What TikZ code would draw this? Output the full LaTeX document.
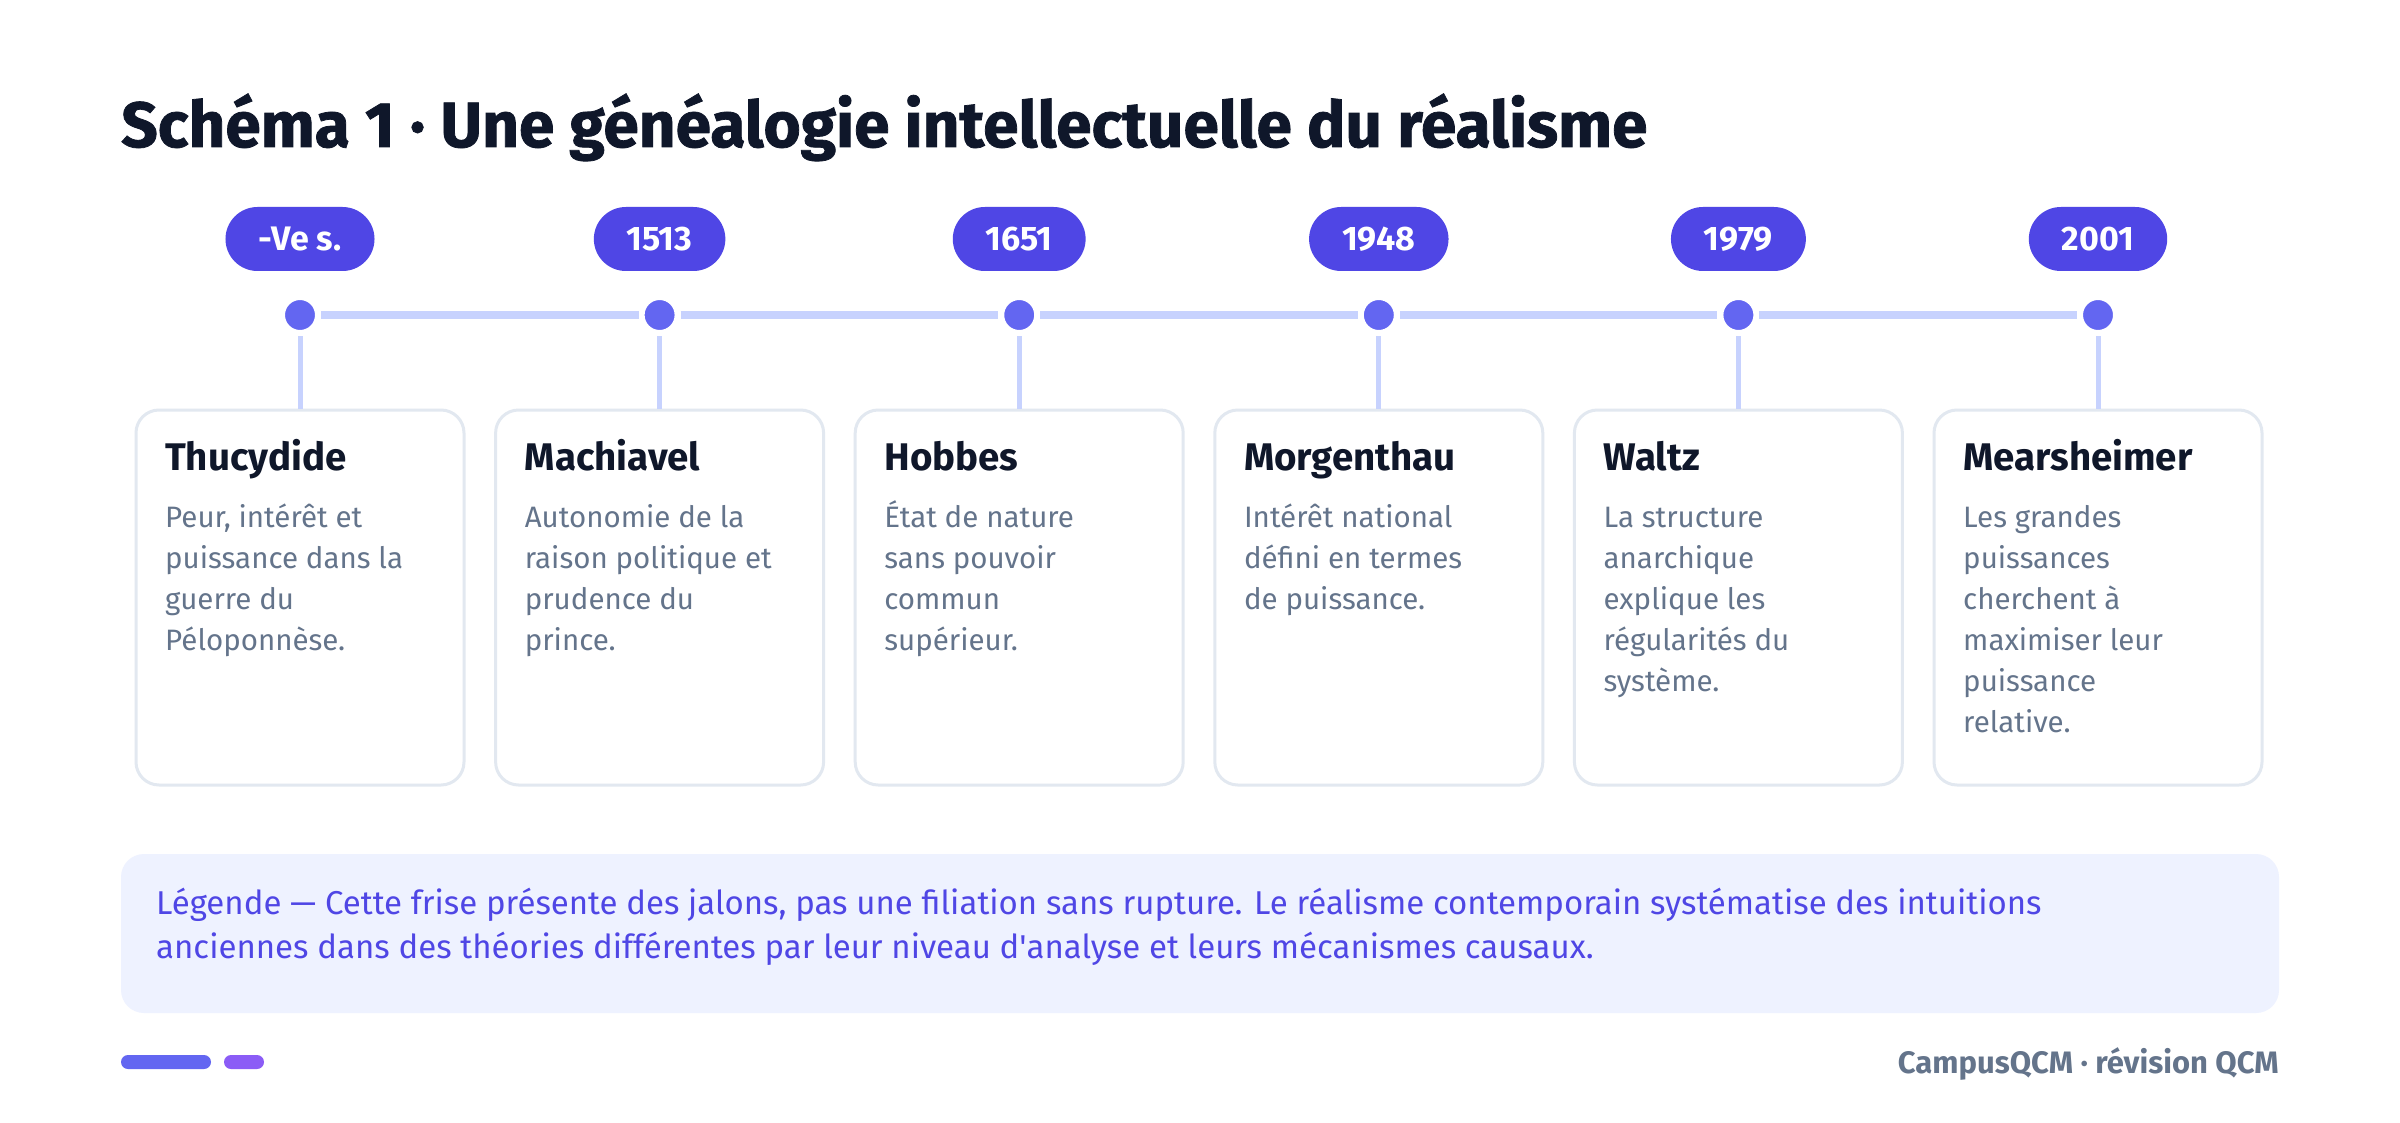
\documentclass[tikz,border=0pt]{standalone}
\usepackage{fontspec}
\setmainfont{Fira Sans}
\newfontfamily\titlef{Fira Sans}[BoldFeatures={FakeBold=1.2}]
\definecolor{ink}{HTML}{0F172A}
\definecolor{pillc}{HTML}{4F46E5}
\definecolor{dotc}{HTML}{6366F1}
\definecolor{linec}{HTML}{C7D2FE}
\definecolor{bodyc}{HTML}{64748B}
\definecolor{cardb}{HTML}{E2E8F0}
\definecolor{legbg}{HTML}{EEF2FF}
\definecolor{violetc}{HTML}{8B5CF6}
\tikzset{
  pillbox/.style={rectangle, rounded corners=32pt, fill=pillc, text=white, inner xsep=33pt, inner ysep=0pt, minimum height=64pt, font=\fontsize{34}{40}\selectfont\bfseries},
  dotnode/.style={circle, inner sep=0pt, minimum size=36pt, fill=dotc, draw=white, line width=6pt},
  tline/.style={draw=linec, line width=8pt},
  vline/.style={draw=linec, line width=5pt},
  cardbox/.style={rectangle, rounded corners=23pt, draw=cardb, line width=3pt, fill=white, minimum width=328pt, minimum height=375pt},
  cardtitle/.style={anchor=base west, inner sep=0pt, text=ink, font=\fontsize{38.5}{44}\selectfont\bfseries},
  bodytxt/.style={anchor=base west, inner sep=0pt, text=bodyc, font=\fontsize{29.5}{41}\selectfont},
  legtxt/.style={anchor=base west, inner sep=0pt, text=pillc, font=\fontsize{33}{44}\selectfont},
  legendbox/.style={rectangle, rounded corners=23pt, fill=legbg, minimum width=2158pt, minimum height=159pt},
  barbox/.style={rectangle, rounded corners=7pt, minimum height=14pt, inner sep=0pt}
}
\newcommand\bodylines[3]{%
  \foreach \l [count=\j from 0] in {#3} {\node[bodytxt] (#1-\j) at (#2,{527+41*\j}) {\l};}}
\begin{document}
\begin{tikzpicture}[x=1pt,y=-1pt]
\useasboundingbox (0,0) rectangle (2400,1123);
\fill[white] (0,0) rectangle (2400,1123);
% title
\node[anchor=base west, inner sep=0pt, text=ink, font=\fontsize{64}{76}\selectfont\titlef\bfseries] (title) at (121,147) {Schéma 1 · Une généalogie intellectuelle du réalisme};
% pills
\node[pillbox] (y1) at (300,239) {-Ve s.};
\node[pillbox] (y2) at (659.6,239) {1513};
\node[pillbox] (y3) at (1019.2,239) {1651};
\node[pillbox] (y4) at (1378.8,239) {1948};
\node[pillbox] (y5) at (1738.4,239) {1979};
\node[pillbox] (y6) at (2098,239) {2001};
% cards
\node[cardbox] (k1) at (300,597.5) {};
\node[cardbox] (k2) at (659.6,597.5) {};
\node[cardbox] (k3) at (1019.2,597.5) {};
\node[cardbox] (k4) at (1378.8,597.5) {};
\node[cardbox] (k5) at (1738.4,597.5) {};
\node[cardbox] (k6) at (2098,597.5) {};
% dots
\node[dotnode] (d1) at (300,315) {};
\node[dotnode] (d2) at (659.6,315) {};
\node[dotnode] (d3) at (1019.2,315) {};
\node[dotnode] (d4) at (1378.8,315) {};
\node[dotnode] (d5) at (1738.4,315) {};
\node[dotnode] (d6) at (2098,315) {};
% connectors
\draw[tline] (d1) -- (d2);
\draw[tline] (d2) -- (d3);
\draw[tline] (d3) -- (d4);
\draw[tline] (d4) -- (d5);
\draw[tline] (d5) -- (d6);
\foreach \i in {1,...,6} {\draw[vline] (d\i) -- (k\i.north);}
% card texts
\node[cardtitle] (n1) at (165,470) {Thucydide};
\bodylines{b1}{165}{{Peur, intérêt et},{puissance dans la},{guerre du},{Péloponnèse.}}
\node[cardtitle] (n2) at (524.6,470) {Machiavel};
\bodylines{b2}{524.6}{{Autonomie de la},{raison politique et},{prudence du},{prince.}}
\node[cardtitle] (n3) at (884.2,470) {Hobbes};
\bodylines{b3}{884.2}{{État de nature},{sans pouvoir},{commun},{supérieur.}}
\node[cardtitle] (n4) at (1243.8,470) {Morgenthau};
\bodylines{b4}{1243.8}{{Intérêt national},{défini en termes},{de puissance.}}
\node[cardtitle] (n5) at (1603.4,470) {Waltz};
\bodylines{b5}{1603.4}{{La structure},{anarchique},{explique les},{régularités du},{système.}}
\node[cardtitle] (n6) at (1963,470) {Mearsheimer};
\bodylines{b6}{1963}{{Les grandes},{puissances},{cherchent à},{maximiser leur},{puissance},{relative.}}
% legend
\node[legendbox] (leg) at (1200,933.5) {};
\node[legtxt] (l1) at (156,914) {Légende — Cette frise présente des jalons, pas une filiation sans rupture. Le réalisme contemporain systématise des intuitions};
\node[legtxt] (l2) at (156,958) {anciennes dans des théories différentes par leur niveau d\textquotesingle analyse et leurs mécanismes causaux.};
% footer
\node[barbox, fill=dotc, minimum width=90pt] (bar1) at (166,1062) {};
\node[barbox, fill=violetc, minimum width=40pt] (bar2) at (244,1062) {};
\node[anchor=base east, inner sep=0pt, text=bodyc, font=\fontsize{31}{36}\selectfont\bfseries] (foot) at (2279,1073) {CampusQCM · révision QCM};
\end{tikzpicture}
\end{document}
